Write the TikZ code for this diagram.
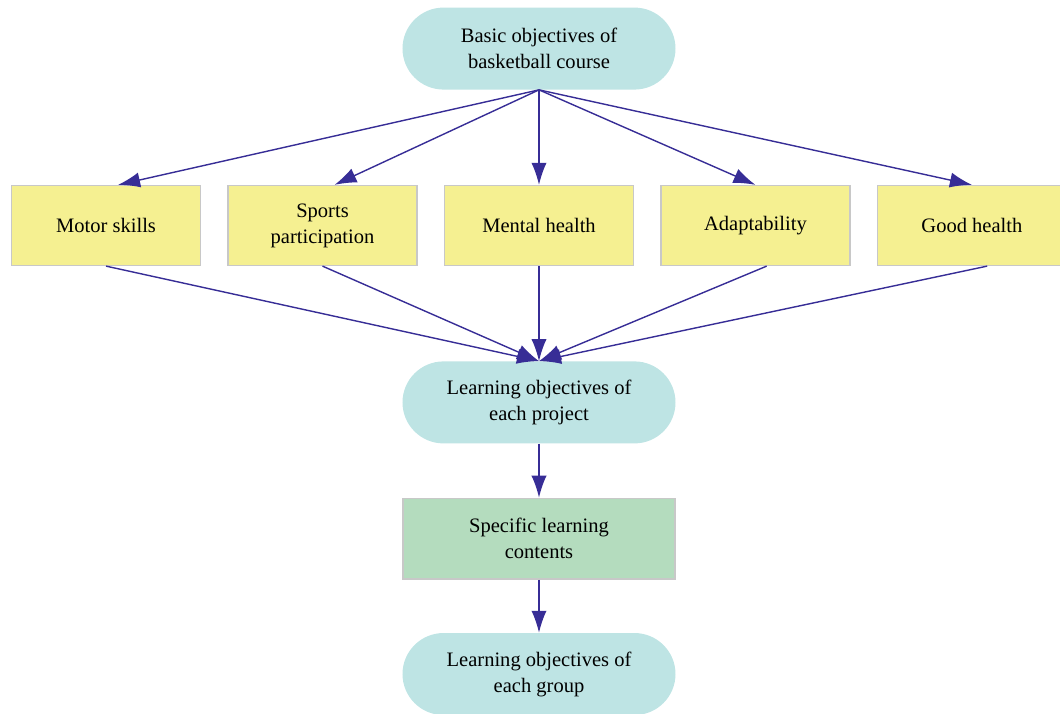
\documentclass[tikz,border=0pt]{standalone}
\usepackage{fontspec}
\setmainfont{Liberation Serif}
\usetikzlibrary{shapes,arrows.meta,positioning}
\definecolor{goalcyan}{RGB}{190,228,228}
\definecolor{goalyellow}{RGB}{245,240,145}
\definecolor{goalgreen}{RGB}{180,220,190}
\definecolor{boxgray}{RGB}{200,200,200}
\definecolor{arrowblue}{RGB}{55,45,150}
\tikzstyle{objective} = [rectangle, fill=goalcyan, rounded corners=1.025cm, align=center, minimum width=6.825cm, minimum height=2.05cm, font=\fontsize{14.6}{18.5}\selectfont]
\tikzstyle{aspect} = [rectangle, draw=boxgray, line width=0.9pt, fill=goalyellow, align=center, minimum width=4.72cm, minimum height=2.0cm, font=\fontsize{14.6}{18.5}\selectfont]
\tikzstyle{content} = [rectangle, draw=boxgray, line width=0.9pt, fill=goalgreen, align=center, minimum width=6.8cm, minimum height=2.02cm, font=\fontsize{14.6}{18.5}\selectfont]
\tikzstyle{line} = [draw=arrowblue, line width=1pt, -{Latex[length=5.5mm,width=3.8mm]}]

\begin{document}
\begin{tikzpicture}[node distance = 0.66cm, auto]
        \useasboundingbox (-13.475,-12.2125) rectangle (13.025,5.6375);
        \node [aspect] (mental) at (0,0) {Mental health};
        \node [aspect, left=of mental] (sports) {Sports\\participation};
        \node [aspect, left=of sports] (motor) {Motor skills};
        \node [aspect, right=of mental] (adapt) {Adaptability};
        \node [aspect, right=of adapt] (health) {Good health};
        \node [objective, above=2.375cm of mental] (basic) {Basic objectives of\\basketball course};
        \node [objective, below=2.375cm of mental] (project) {Learning objectives of\\each project};
        \node [content, below=1.35cm of project] (contents) {Specific learning\\contents};
        \node [objective, below=1.325cm of contents] (group) {Learning objectives of\\each group};

        \path [line] (basic.south) -- ([xshift=0.3cm]motor.north);
        \path [line] (basic.south) -- ([xshift=0.3cm]sports.north);
        \path [line] (basic.south) -- (mental.north);
        \path [line] (basic.south) -- (adapt.north);
        \path [line] (basic.south) -- (health.north);
        \path [line] (motor.south) -- (project.north);
        \path [line] (sports.south) -- (project.north);
        \path [line] (mental.south) -- (project.north);
        \path [line] ([xshift=0.28cm]adapt.south) -- (project.north);
        \path [line] ([xshift=0.38cm]health.south) -- (project.north);
        \path [line] (project) -- (contents);
        \path [line] (contents) -- (group);
      \end{tikzpicture}
\end{document}
